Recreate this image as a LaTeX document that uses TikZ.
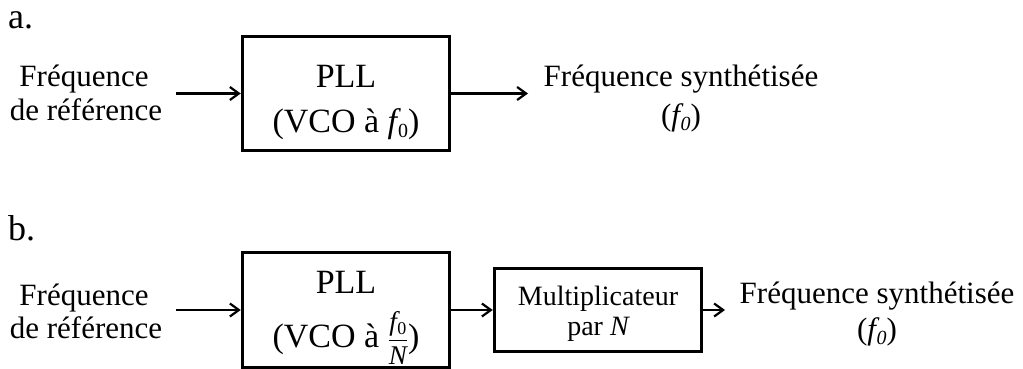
\documentclass[tikz,border=0pt]{standalone}
\usepackage{amsmath}
\usepackage{fontspec}
\setmainfont{Liberation Serif}
\usetikzlibrary{arrows.meta}
\newcommand\fzA{\fontsize{31}{36}\selectfont}
\newcommand\fzBox{\fontsize{34}{40}\selectfont}
\newcommand\fzMul{\fontsize{28}{32}\selectfont}
\newcommand\fzHead{\fontsize{36}{40}\selectfont}
\newcommand\fzSmall{\fontsize{27}{29}\selectfont}
\newcommand\fzSub{\fontsize{20}{22}\selectfont}
\begin{document}
\begin{tikzpicture}[x=1pt,y=-1pt,
  blk/.style={draw, line width=3pt, inner sep=0pt},
  lbl/.style={anchor=base, inner sep=0pt, font=\fzA},
  boxtxt/.style={anchor=base, inner sep=0pt, font=\fzBox},
  multxt/.style={anchor=base, inner sep=0pt, font=\fzMul},
  head/.style={anchor=base west, inner sep=0pt, font=\fzHead},
  arr/.style={line width=2.2pt, -{Straight Barb[length=9pt,width=13pt]}}]
\useasboundingbox (0,0) rectangle (1023,369);
% headings
\node[head] (ha) at (8,29) {a.};
\node[head] (hb) at (8,240) {b.};
% ---------- panel a ----------
\node[blk, minimum width=207.5pt, minimum height=114.5pt] (pllA) at (346,93.5) {};
\node[boxtxt] (pllAa) at (346,88) {PLL};
\node[boxtxt] (pllAb) at (346,132) {(VCO à {\itshape f}\kern1pt\raisebox{-5pt}{\fzSub 0})};
\node[lbl] (inAa) at (84,87) {Fréquence};
\node[lbl] (inAb) at (86,121) {de référence};
\node[lbl] (outAa) at (681,87) {Fréquence synthétisée};
\node[lbl] (outAb) at (681,125) {({\itshape f\kern0.5pt\raisebox{-5pt}{\fzSub 0}})};
\coordinate (sA) at (176,93.5);
\coordinate (eA) at (528,93.5);
\draw[arr] (sA) -- (pllA.west);
\draw[arr] (pllA.east) -- (eA);
% ---------- panel b ----------
\node[blk, minimum width=207.5pt, minimum height=114.5pt] (pllB) at (346,310) {};
\node[boxtxt] (pllBa) at (346,293) {PLL};
\node[boxtxt] (pllBb) at (346,347) {(VCO à $\dfrac{\mbox{\fzSmall\itshape f\kern0.5pt\raisebox{-4pt}{\upshape\fontsize{18}{19}\selectfont 0}}}{\mbox{\fzSmall\itshape N}}$)};
\node[blk, minimum width=207.5pt, minimum height=83.5pt] (mul) at (598,310) {};
\node[multxt] (mula) at (598,305) {Multiplicateur};
\node[multxt] (mulb) at (598,335) {par {\itshape N}};
\node[lbl] (inBa) at (84,305) {Fréquence};
\node[lbl] (inBb) at (86,338) {de référence};
\node[lbl] (outBa) at (877,303) {Fréquence synthétisée};
\node[lbl] (outBb) at (877,339) {({\itshape f\kern0.5pt\raisebox{-5pt}{\fzSub 0}})};
\coordinate (sB) at (176,310);
\coordinate (eB) at (725,310);
\draw[arr] (sB) -- (pllB.west);
\draw[arr] (pllB.east) -- (mul.west);
\draw[arr] (mul.east) -- (eB);
\end{tikzpicture}
\end{document}
